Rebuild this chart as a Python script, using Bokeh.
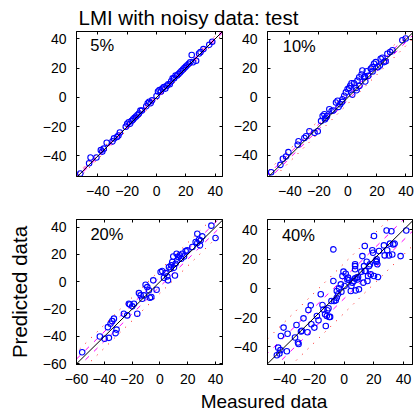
from bokeh.plotting import figure
from bokeh.models import Range1d, FixedTicker, LinearAxis, Label
from bokeh.layouts import column, row
from bokeh.embed import file_html
from bokeh.resources import INLINE

FONT = "Liberation Sans"
TICK_PX = "14px"

TITLE = "LMI with noisy data: test"
X_LABEL = "Measured data"
Y_LABEL = "Predicted data"
noise_tags = ["5%", "10%", "20%", "40%"]

ticks_a = [-40, -20, 0, 20, 40]
ticks_b = [-60, -40, -20, 0, 20, 40]

# ---- data: measured (x) vs predicted (y) ----
meas5 = [-52, -46, -45, -41, -38, -37, -36, -34, -30, -29, -27, -26, -25, -21, -20, -19, -18, -17, -16, -15,
         -14, -13, -12, -11, -10, -7, -6, -5, -4, -3, 0, 1, 2, 3, 4, 5, 6, 7, 8, 9,
         10, 11, 12, 13, 14, 15, 16, 17, 18, 19, 20, 21, 22, 23, 24, 25, 27, 29, 30, 32, 36, 38]
pred5 = [-52, -45, -41, -41, -36, -37, -35, -31, -30, -28, -27, -26, -24, -20, -18, -17, -18, -16, -15, -14,
         -13, -12, -11, -9, -9, -6, -4, -3, -4, -2, 1, 4, 5, 4, 6, 7, 6, 8, 9, 9,
         11, 13, 13, 15, 15, 16, 17, 18, 19, 20, 21, 22, 23, 24, 29, 24, 25, 30, 31, 33, 36, 38]

meas10 = [-52.9, -46.5, -44.8, -42.6, -41, -34.6, -34, -30, -28.8, -26.5, -23, -20.8, -18.5, -17.4, -16.2, -15.8,
          -15.1, -14.4, -12.8, -11.2, -10, -8.2, -7.1, -6.4, -5.3, -4, -3.7, -2.5, -1.4, -0.2, 0.9, 1.6, 2.5, 3,
          4.3, 5.5, 6, 6.6, 7.8, 8, 9.4, 10, 11.2, 11.7, 12, 13, 14, 15.8, 16.9, 17, 18, 19.2, 20.8, 22, 22.6,
          23.8, 24.9, 26, 27.2, 29.1, 30.7, 37.5, 39.8]
pred10 = [-51.6, -46.5, -42.3, -40.7, -37.7, -32.6, -30.2, -27.9, -26.7, -23.3, -24.4, -23.3, -16.3, -12.8, -11.6,
          -15.1, -14, -12.8, -8.1, -9.3, -9, -3.5, -2.3, -6.5, -4.7, -3, -1.2, 1.2, 3.5, 5.8, 6.5, 8.1, 9.8, 2,
          9.8, 6.5, 5, 11.6, 14, 8, 15.8, 18.6, 14, 14.4, 11, 18.1, 15, 19.8, 20.9, 18, 23.3, 24.4, 20.9, 22, 26.7,
          27.4, 24.4, 25, 30.2, 31.4, 32.6, 39.5, 40.7]

meas20 = [-55.9, -43.2, -39.8, -37.4, -36.7, -35.5, -34.3, -33.1, -31.9, -31.2, -25.9, -23.5, -22.3, -21.6, -19.9,
          -18.7, -16.3, -15.1, -13.9, -12.7, -11.5, -10.3, -9.1, -7.9, -7.2, -6.2, -4.8, -2.4, 0.5, 1.7, 2.9, 4.1,
          5.3, 5.8, 6.5, 7.7, 8.2, 8.9, 9.6, 10.1, 10.8, 11.3, 12, 12.5, 13.2, 14.4, 15.3, 16.1, 17.3, 18.5, 19.7,
          23.3, 25.7, 26.9, 26.9, 28.1, 28.8, 29.3, 30.5, 37, 40]
pred20 = [-51.5, -40, -41.7, -33.2, -41, -30.7, -28.8, -27, -37.6, -35, -23.4, -24.6, -16.1, -16.6, -18, -16.1,
          -23.4, -8.3, -10, -12.4, -10, -2.2, -3.9, -6.3, -11.7, -11.2, 1, -5.9, 7.1, 7.8, 2.9, 6.3, 3.9, 1, 10.7,
          9.5, 12, 14.4, 18.5, 10.2, 4.6, 13.2, 20.5, 15.6, 18, 19.3, 16.8, 20.5, 18.5, 22.4, 22.9, 25.4, 29, 35.1,
          28.3, 30.7, 26.6, 30.2, 33.2, 41, 32]

meas40 = [-45.2, -44.3, -42.8, -43.5, -40.7, -42.5, -38, -38.5, -33, -32, -31, -30.6, -29, -28.4, -27.3, -24.6,
          -24, -22.4, -22, -20, -18.3, -17.2, -15.7, -14.5, -13.9, -12.8, -12.3, -11.6, -11.2, -10.5, -10, -9.4,
          -8.5, -7.2, -7.2, -6.7, -5.6, -4.9, -4.9, -4, -3.4, -2.2, -1.8, -1.1, -0.4, 0.4, 1.1, 2.2, 2.7, 3.4,
          4.5, 4.9, 5.6, 6.7, 7.4, 7.4, 7.4, 7.4, 7.8, 8.5, 9, 9.4, 10, 11.6, 12.3, 13, 13.4, 13.9, 13.9, 14.5,
          15.2, 15.7, 16.1, 16.8, 17.4, 17.9, 19, 19.5, 20.1, 20.1, 21.3, 21.9, 21.9, 22.4, 22.8, 23.5, 26.8,
          27.3, 28.6, 29, 30.2, 30.9, 31.8, 32.4, 33.1, 34, 38, 41.8]
pred40 = [-45.7, -40.5, -42.2, -44.5, -26.8, -32.5, -31, -43, -33.6, -25, -37, -38, -29.5, -29, -20.5, -30,
          -14.8, -11.6, -24.5, -26.8, -18.9, -21.8, -4, -11.4, -14.5, -17.7, -25.7, -18.9, -15, -13.6, -19.5,
          -19.5, -8.6, 26.6, 5, -8.6, -8.2, -6.4, -1.8, -4, 0, 2.7, -2.3, 8.4, 11.4, 1.6, 10, 6, 7.3, 5.7,
          -1.8, 1.6, 3.9, 5, 6.8, 15.2, 13, 16.4, -1.4, 7.3, 6, 7.7, -0.7, 11.4, 22, 3.9, 15.2, 28.9, 11.8, 11.8,
          18.2, 5, 8.4, 15.2, 16.4, 9.5, 26, 24.3, 35.7, 8.4, 18.6, 19.8, 18.2, 16.4, 7.7, 25.5, 29.3, 22.5,
          39.5, 26, 22.5, 30.5, 39, 23.1, 30, 30.5, 22, 39.5]

# half-widths of the dashed (magenta) and dotted (red) bands around y = x
band_inner = [0.9, 1.75, 3.5, 7.0]
band_outer = [2.1, 4.25, 8.5, 17.0]

# axis limits
x_limits = [(-54.6, 45.0), (-55.4, 44.5), (-60.0, 45.0), (-51.5, 46.0)]
y_limits = [(-54.0, 45.0), (-54.5, 45.5), (-60.5, 45.5), (-52.0, 47.0)]


def fmt(t):
    return ("\u2212" + str(abs(t))) if t < 0 else str(t)


def style_axis(ax, ticks, show_labels, standoff):
    ax.ticker = FixedTicker(ticks=ticks)
    ax.major_tick_in = 3
    ax.major_tick_out = 0
    ax.minor_tick_in = 0
    ax.minor_tick_out = 0
    ax.major_tick_line_color = "black"
    ax.axis_line_color = "black"
    ax.major_label_text_font = FONT
    ax.major_label_standoff = standoff
    if show_labels:
        ax.major_label_overrides = {t: fmt(t) for t in ticks}
        ax.major_label_text_font_size = TICK_PX
        ax.major_label_text_color = "black"
    else:
        ax.major_label_text_font_size = "1px"
        ax.major_label_text_color = None


def panel(meas, pred, tag, tag_xy, xlim, ylim, xticks, yticks, inner, outer,
          w, h, bl, br, bt, bb, ylabel=None):
    p = figure(width=w, height=h, x_range=Range1d(*xlim), y_range=Range1d(*ylim),
               output_backend="svg", toolbar_location=None, title=None,
               min_border_left=bl, min_border_right=br, min_border_top=bt, min_border_bottom=bb)
    p.outline_line_color = "black"
    p.outline_line_alpha = 1.0
    p.grid.visible = False
    p.background_fill_color = "white"
    p.border_fill_color = "white"
    style_axis(p.xaxis[0], xticks, True, 9)
    style_axis(p.yaxis[0], yticks, True, 10)
    top = LinearAxis()
    style_axis(top, xticks, False, 0)
    p.add_layout(top, "above")
    right = LinearAxis()
    style_axis(right, yticks, False, 0)
    p.add_layout(right, "right")
    if ylabel:
        p.yaxis[0].axis_label = ylabel
        p.yaxis[0].axis_label_text_font = FONT
        p.yaxis[0].axis_label_text_font_size = "20.5px"
        p.yaxis[0].axis_label_text_font_style = "normal"
        p.yaxis[0].axis_label_text_color = "black"
        p.yaxis[0].axis_label_standoff = 9

    lo = min(xlim[0], ylim[0]) - 30
    hi = max(xlim[1], ylim[1]) + 30
    span = [lo, hi]
    for s in (1, -1):
        p.line(span, [v + s * outer for v in span], line_color="red", line_dash="1 7", line_width=1)
        p.line(span, [v + s * inner for v in span], line_color="magenta", line_dash="5 7", line_width=1)
    p.scatter(meas, pred, marker="circle", size=5.5, fill_color=None, line_color="blue", line_width=1.1)
    p.line(span, span, line_color="black", line_width=1)
    p.add_layout(Label(x=tag_xy[0], y=tag_xy[1], text=tag, text_font=FONT, text_font_size="16.5px",
                       text_baseline="alphabetic", text_color="black"))
    return p


W = 414
p1 = panel(meas5, pred5, noise_tags[0], (-45.2, 35.6), x_limits[0], y_limits[0], ticks_a, ticks_a,
           band_inner[0], band_outer[0], 230, 176, 76, 8, 2, 29)
p2 = panel(meas10, pred10, noise_tags[1], (-44.9, 35.6), x_limits[1], y_limits[1], ticks_a, ticks_a,
           band_inner[1], band_outer[1], 184, 176, 37, 2, 2, 29)
p3 = panel(meas20, pred20, noise_tags[2], (-50.0, 34.9), x_limits[2], y_limits[2], ticks_b, ticks_b,
           band_inner[2], band_outer[2], 230, 184, 76, 8, 14, 25, ylabel=Y_LABEL)
p4 = panel(meas40, pred40, noise_tags[3], (-41.8, 36.7), x_limits[3], y_limits[3], ticks_a, ticks_a,
           band_inner[3], band_outer[3], 184, 184, 37, 2, 14, 25)


def strip(h):
    s = figure(width=W, height=h, x_range=Range1d(0, W), y_range=Range1d(0, h),
               output_backend="svg", toolbar_location=None, title=None, min_border=0,
               x_axis_location=None, y_axis_location=None)
    s.outline_line_color = None
    s.grid.visible = False
    s.background_fill_color = "white"
    s.border_fill_color = "white"
    return s


top_strip = strip(29)
top_strip.add_layout(Label(x=78, y=12, text=TITLE, text_font=FONT, text_font_size="20.5px",
                           text_baseline="alphabetic", text_color="black"))
bottom_strip = strip(22)
bottom_strip.add_layout(Label(x=263.5, y=10.5, text=X_LABEL, text_font=FONT, text_font_size="19px",
                              text_align="center", text_baseline="alphabetic", text_color="black"))

layout = column(top_strip, row(p1, p2), row(p3, p4), bottom_strip)

open("out.html", "w").write(file_html(layout, INLINE))
